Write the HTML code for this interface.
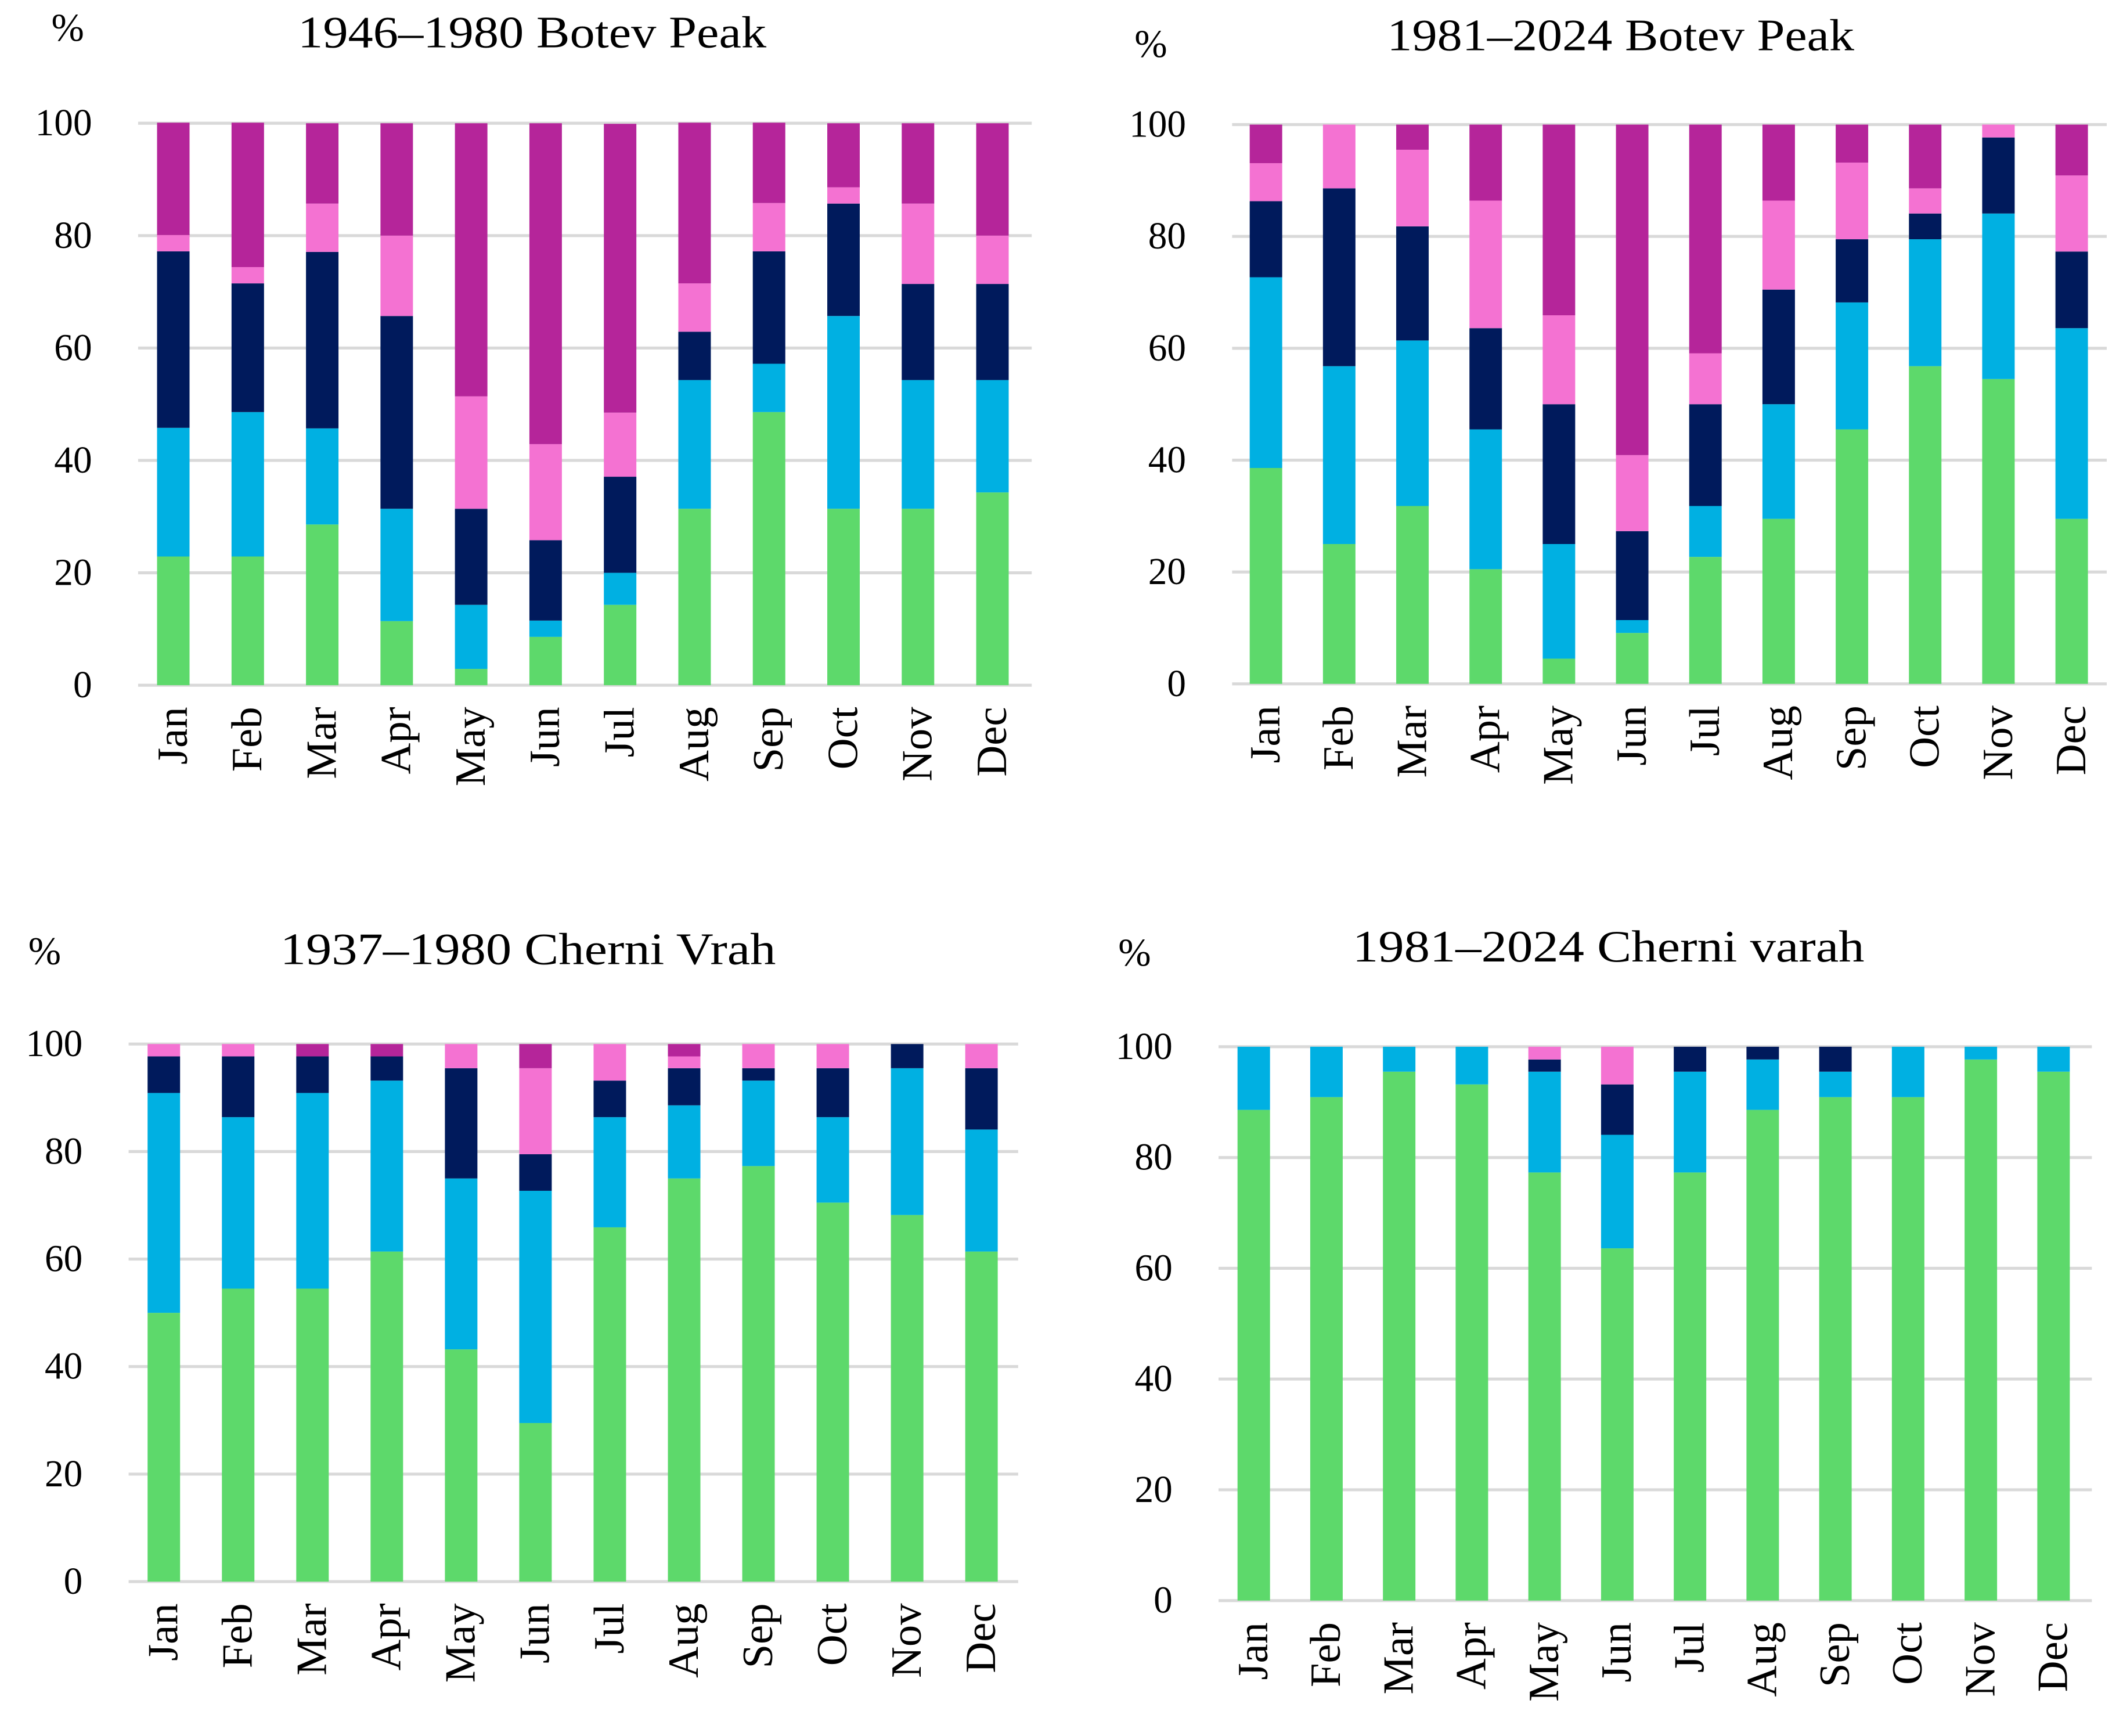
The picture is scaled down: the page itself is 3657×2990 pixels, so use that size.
<!DOCTYPE html>
<html><head><meta charset="utf-8"><style>
html,body{margin:0;padding:0;background:#fff}
svg{display:block}
text{font-family:"Liberation Serif",serif;fill:#000}
</style></head><body>
<svg id="chart" width="3657" height="2990" viewBox="0 0 1568 1282" xmlns="http://www.w3.org/2000/svg"></svg>
<script>
const months=["Jan","Feb","Mar","Apr","May","Jun","Jul","Aug","Sep","Oct","Nov","Dec"];
const seriesNames=["green","cyan","navy","pink","magenta"];
const colors=["#5dd96b","#00b0e2","#001a5c","#f472d2","#b5259a"];
const yTicks=[0,20,40,60,80,100];
// Panel 1: 1946–1980 Botev Peak
const p1Green=[22.9,22.9,28.6,11.4,2.9,8.6,14.3,31.4,48.6,31.4,31.4,34.3];
const p1Cyan=[22.9,25.7,17.1,20,11.4,2.9,5.7,22.9,8.6,34.3,22.9,20];
const p1Navy=[31.4,22.9,31.4,34.3,17.1,14.3,17.1,8.6,20,20,17.1,17.1];
const p1Pink=[2.9,2.9,8.6,14.3,20,17.1,11.4,8.6,8.6,2.9,14.3,8.6];
const p1Magenta=[20,25.7,14.3,20,48.6,57.1,51.4,28.6,14.3,11.4,14.3,20];
// Panel 2: 1981–2024 Botev Peak
const p2Green=[38.6,25,31.8,20.5,4.5,9.1,22.7,29.5,45.5,56.8,54.5,29.5];
const p2Cyan=[34.1,31.8,29.6,25,20.5,2.3,9.1,20.5,22.7,22.7,29.6,34.1];
const p2Navy=[13.6,31.8,20.4,18.1,25,15.9,18.2,20.5,11.3,4.6,13.6,13.7];
const p2Pink=[6.8,11.4,13.7,22.8,15.9,13.6,9.1,15.9,13.7,4.5,2.3,13.6];
const p2Magenta=[6.9,0,4.5,13.6,34.1,59.1,40.9,13.6,6.8,11.4,0,9.1];
// Panel 3: 1937–1980 Cherni Vrah
const p3Green=[50,54.5,54.5,61.4,43.2,29.5,65.9,75,77.3,70.5,68.2,61.4];
const p3Cyan=[40.9,31.9,36.4,31.8,31.8,43.2,20.5,13.6,15.9,15.9,27.3,22.7];
const p3Navy=[6.8,11.3,6.8,4.5,20.5,6.8,6.8,6.9,2.3,9.1,4.5,11.4];
const p3Pink=[2.3,2.3,0,0,4.5,16,6.8,2.2,4.5,4.5,0,4.5];
const p3Magenta=[0,0,2.3,2.3,0,4.5,0,2.3,0,0,0,0];
// Panel 4: 1981–2024 Cherni varah
const p4Green=[88.6,90.9,95.5,93.2,77.3,63.6,77.3,88.6,90.9,90.9,97.7,95.5];
const p4Cyan=[11.4,9.1,4.5,6.8,18.2,20.5,18.2,9.1,4.6,9.1,2.3,4.5];
const p4Navy=[0,0,0,0,2.2,9.1,4.5,2.3,4.5,0,0,0];
const p4Pink=[0,0,0,0,2.3,6.8,0,0,0,0,0,0];
const p4Magenta=[0,0,0,0,0,0,0,0,0,0,0,0];
const titles=["1946–1980 Botev Peak","1981–2024 Botev Peak","1937–1980 Cherni Vrah","1981–2024 Cherni varah"];

const NS="http://www.w3.org/2000/svg";
const svg=document.getElementById("chart");
function mk(tag,attrs,parent){const e=document.createElementNS(NS,tag);for(const k in attrs)e.setAttribute(k,attrs[k]);(parent||svg).appendChild(e);return e;}

const panels=[
 {series:[p1Green,p1Cyan,p1Navy,p1Pink,p1Magenta],x0:102,x1:762,y100:91,y0:506,c0:128,dc:55,tx:393,ty:35,tw:346,px:50,py:30},
 {series:[p2Green,p2Cyan,p2Navy,p2Pink,p2Magenta],x0:910,x1:1556,y100:92,y0:505,c0:935,dc:54.1,tx:1197,ty:37,tw:345,px:850,py:42},
 {series:[p3Green,p3Cyan,p3Navy,p3Pink,p3Magenta],x0:95,x1:752,y100:771,y0:1168,c0:121,dc:54.9,tx:390,ty:712,tw:366,px:33,py:712},
 {series:[p4Green,p4Cyan,p4Navy,p4Pink,p4Magenta],x0:900,x1:1545,y100:773,y0:1182,c0:926,dc:53.7,tx:1188,ty:710,tw:378,px:838,py:713}
];
panels.forEach((p,pi)=>{
  const g=mk("g",{});
  
  
  const yS=v=>p.y0-(p.y0-p.y100)*v/100;
  const xS=i=>p.c0+p.dc*i;
  const t=mk("text",{x:p.tx-p.tw/2,y:p.ty,"font-size":33,textLength:p.tw,lengthAdjust:"spacingAndGlyphs"},g);t.textContent=titles[pi];
  
  
  const u=mk("text",{x:p.px,y:p.py,"text-anchor":"middle","font-size":29},g);u.textContent="%";
  
  
  yTicks.forEach(v=>{
    const l=mk("line",{x1:p.x0,x2:p.x1,y1:yS(v),y2:yS(v),stroke:"#d9d9d9","stroke-width":2.2},g);
    
    
    const tt=mk("text",{x:p.x0-34,y:yS(v)+9,"text-anchor":"end","font-size":28},g);tt.textContent=v;
    
    
  });
  const bw=24;
  months.forEach((m,i)=>{
    let cum=0;
    p.series.forEach((s,si)=>{
      const v=s[i];
      if(v>0){
        const r=mk("rect",{x:xS(i)-bw/2,y:yS(cum+v),width:bw,height:yS(cum)-yS(cum+v),fill:colors[si]},g);
        
        
      }
      cum+=v;
    });
    const lx=xS(i)+10, ly=p.y0+16;
    const ml=mk("text",{x:lx,y:ly,"text-anchor":"end","font-size":32,transform:`rotate(-90 ${lx} ${ly})`},g);ml.textContent=m;
    
    
  });
});
</script>
</body></html>
